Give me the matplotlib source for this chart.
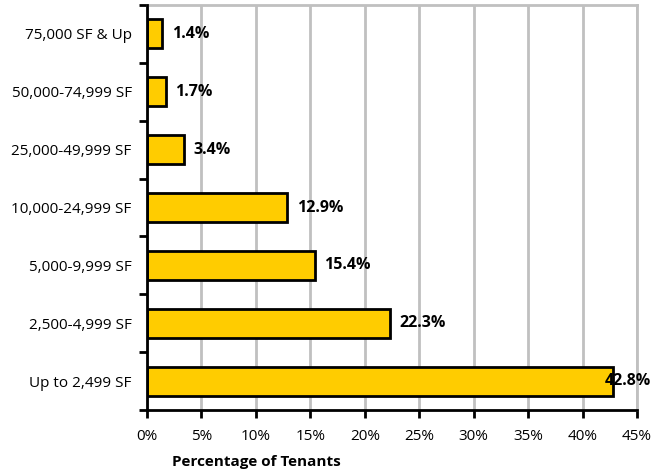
import matplotlib
matplotlib.use("Agg")
import matplotlib.pyplot as plt
import numpy as np

categories = ["Up to 2,499 SF", "2,500-4,999 SF", "5,000-9,999 SF", "10,000-24,999 SF",
              "25,000-49,999 SF", "50,000-74,999 SF", "75,000 SF & Up"]
values = [42.8, 22.3, 15.4, 12.9, 3.4, 1.7, 1.4]
value_labels = ["42.8%", "22.3%", "15.4%", "12.9%", "3.4%", "1.7%", "1.4%"]
x_ticks = [0, 5, 10, 15, 20, 25, 30, 35, 40, 45]
x_tick_labels = ["0%", "5%", "10%", "15%", "20%", "25%", "30%", "35%", "40%", "45%"]

plt.rcParams["font.family"] = ["Open Sans", "DejaVu Sans"]

W, H = 653, 474
fig = plt.figure(figsize=(W / 100, H / 100), dpi=100)
ax = fig.add_axes([147 / W, 64 / H, 490 / W, 405 / H])

y = np.arange(len(categories))
ax.barh(y, values, height=0.5, color="#FFCC00", edgecolor="black", linewidth=2, zorder=3)

xmax = 45
for yi, v, lab in zip(y, values, value_labels):
    x_text = v + 0.9
    # keep the widest label inside the figure by pulling it back over the bar end
    if v > 40:
        x_text = v - 0.8
    ax.text(x_text, yi, lab, va="center", ha="left", fontsize=11.5,
            fontweight="bold", color="black", zorder=4, clip_on=False)

ax.set_xlim(0, xmax)
ax.set_ylim(-0.5, len(categories) - 0.5)
ax.set_xticks(x_ticks)
ax.set_xticklabels(x_tick_labels, fontsize=11)
ax.set_yticks(y)
ax.set_yticklabels(categories, fontsize=11)
ax.tick_params(axis="y", length=0, pad=11)
ax.set_yticks(np.arange(-0.5, len(categories), 1.0), minor=True)
ax.tick_params(axis="y", which="minor", length=6, width=2, direction="out")
ax.tick_params(axis="x", length=6, width=2, direction="out", pad=8)

ax.grid(axis="x", color="#C0C0C0", linewidth=2, zorder=0)
for side in ("top", "right"):
    ax.spines[side].set_color("#C0C0C0")
    ax.spines[side].set_linewidth(2)
for side in ("left", "bottom"):
    ax.spines[side].set_color("black")
    ax.spines[side].set_linewidth(2)
    ax.spines[side].set_zorder(5)

fig.text(256 / W, 1 - 462 / H, "Percentage of Tenants", ha="center", va="center",
         fontsize=11, fontweight="bold")

fig.savefig("out.png", dpi=100)
